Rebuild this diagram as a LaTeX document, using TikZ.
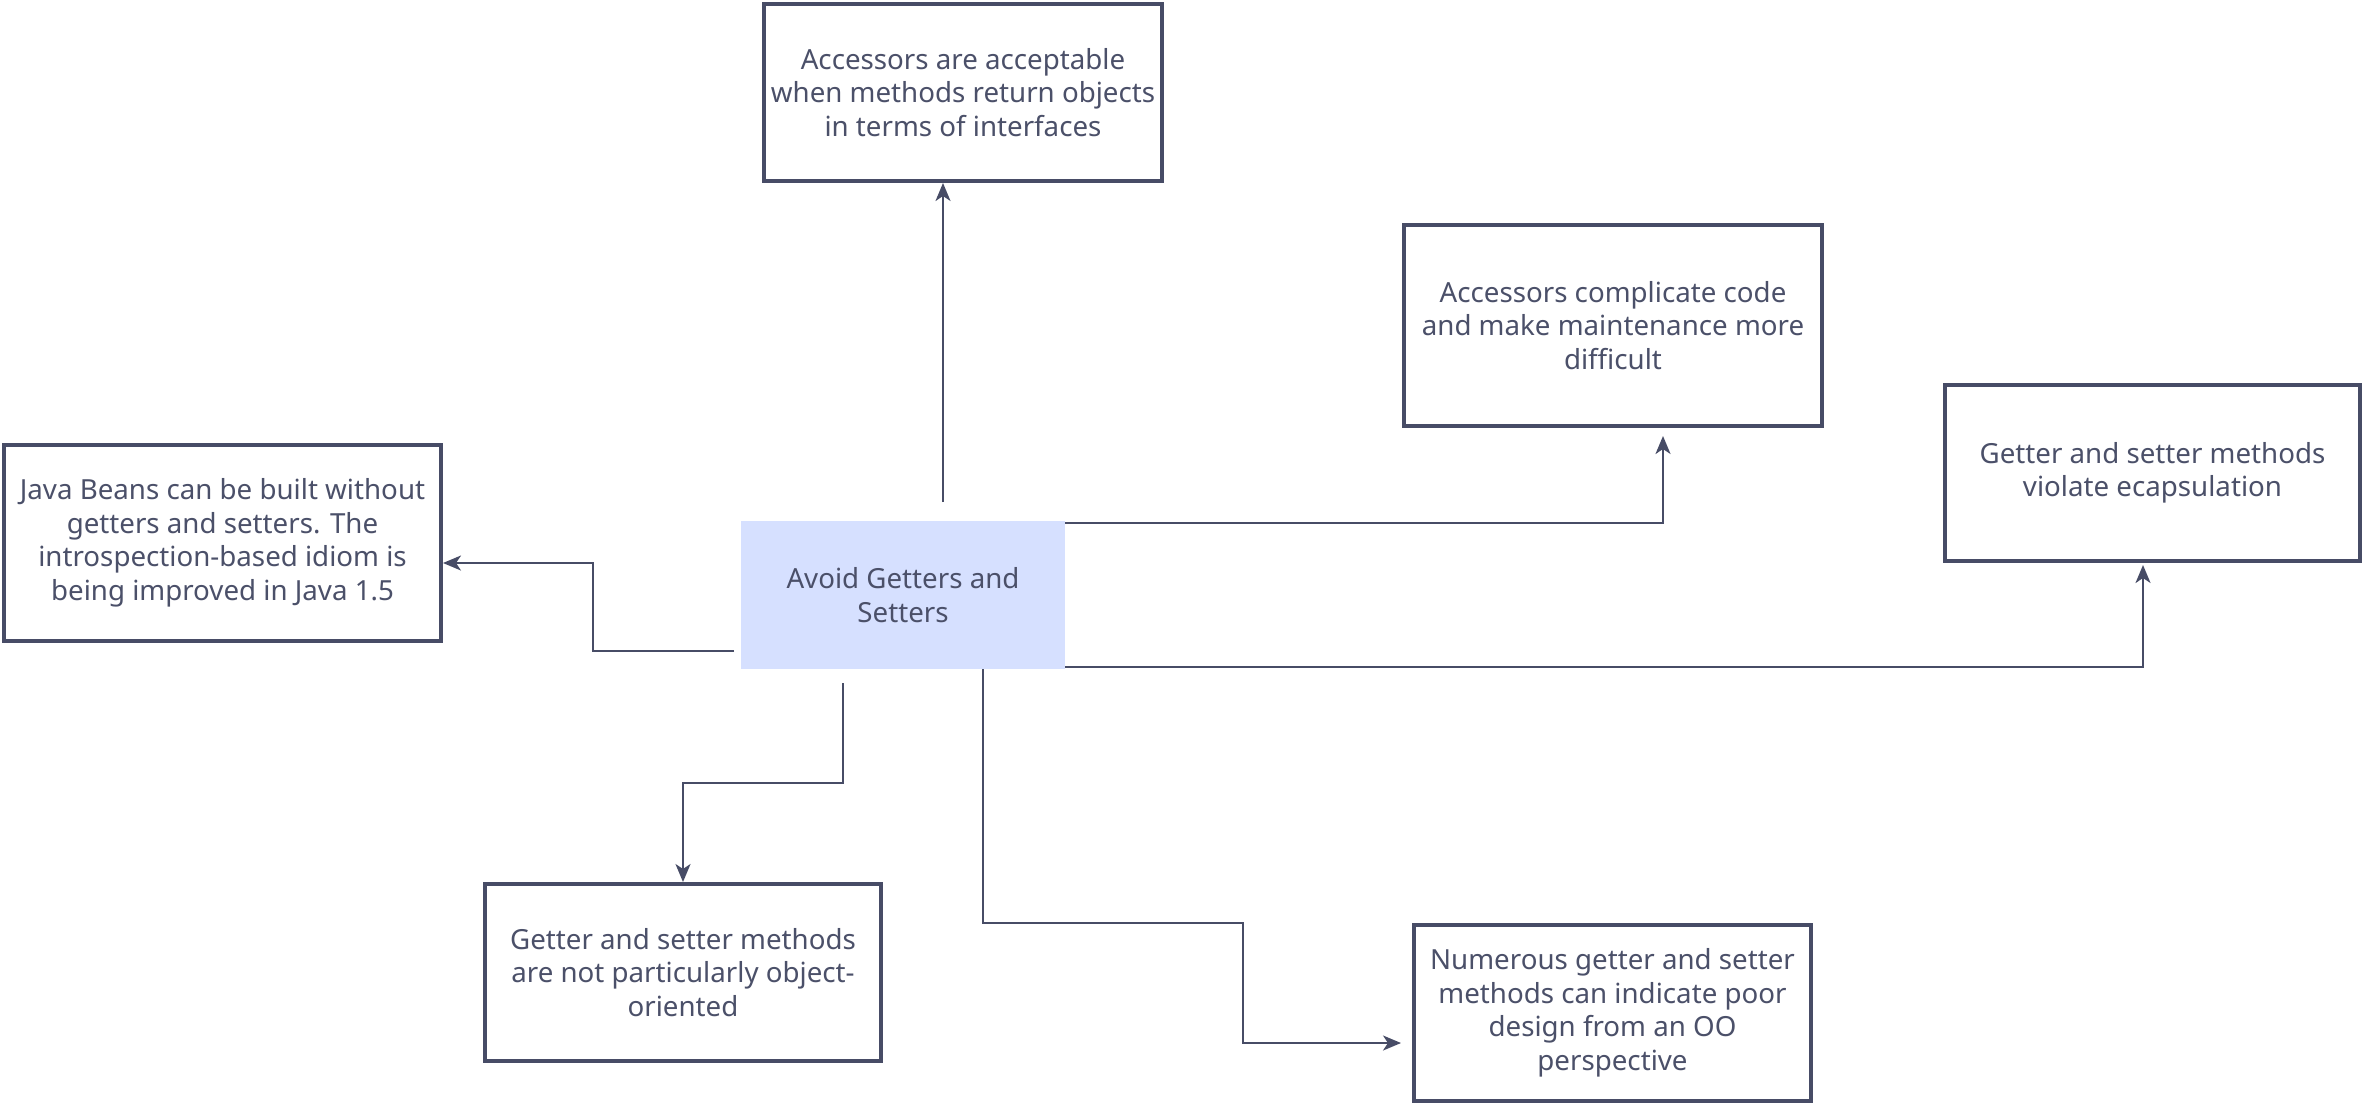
\documentclass[tikz,border=0pt]{standalone}
\usepackage{fontspec}
\setmainfont{Noto Sans}
\usetikzlibrary{arrows.meta}
\definecolor{ink}{HTML}{474C66}
\definecolor{txt}{HTML}{4B5069}
\definecolor{fillc}{HTML}{D6E0FF}
\begin{document}
\begin{tikzpicture}[x=1pt,y=-1pt,
  box/.style={draw=ink, line width=4pt, align=center, text=txt,
    font=\fontsize{27.7}{33.5}\selectfont, inner sep=0pt},
  topic/.style={fill=fillc, align=center, text=txt,
    font=\fontsize{27.7}{33.5}\selectfont, inner sep=0pt},
  arr/.style={draw=ink, line width=2.2pt, -{Stealth[length=18pt,width=15pt,inset=5pt]}}]
\useasboundingbox (0,0) rectangle (2364,1104);
\fill[white] (0,0) rectangle (2364,1104);

\node[topic, minimum width=324pt, minimum height=148pt] (ctr) at (903,595)
  {Avoid Getters and\\Setters};
\node[box, minimum width=398pt, minimum height=177pt] (acc) at (963,92.5)
  {Accessors are acceptable\\when methods return objects\\in terms of interfaces};
\node[box, minimum width=418pt, minimum height=201pt] (comp) at (1613,325.5)
  {Accessors complicate code\\and make maintenance more\\difficult};
\node[box, minimum width=415pt, minimum height=176pt] (viol) at (2152.5,473)
  {Getter and setter methods\\violate ecapsulation};
\node[box, minimum width=437pt, minimum height=196pt] (java) at (222.5,543)
  {Java Beans can be built without\\getters and setters. The\\introspection-based idiom is\\being improved in Java 1.5};
\node[box, minimum width=396pt, minimum height=177pt] (bl) at (683,972.5)
  {Getter and setter methods\\are not particularly object-\\oriented};
\node[box, minimum width=397pt, minimum height=176pt] (br) at (1612.5,1013)
  {Numerous getter and setter\\methods can indicate poor\\design from an OO\\perspective};

% connectors
\coordinate (t0) at (943,502);
\draw[arr] (t0) -- (t0 |- acc.south);

\coordinate (j0) at (734,651);
\coordinate (j1) at (593,563);
\draw[arr] (j0) -| (j1) -- (j1 -| java.east);

\coordinate (c1) at (1663,0);
\draw[arr, shorten >=8pt] ([yshift=-2pt]ctr.north east) -| (c1 |- comp.south);

\coordinate (v1) at (2143,0);
\draw[arr, shorten >=2pt] ([yshift=2pt]ctr.south east) -| (v1 |- viol.south);

\coordinate (b0) at (843,683);
\coordinate (b1) at (683,783);
\draw[arr] (b0) |- (b1) -- (bl.north);

\coordinate (r0) at (983,669);
\coordinate (r1) at (1243,923);
\coordinate (r2) at (1243,1043);
\draw[arr, shorten >=11pt] (r0) |- (r1) -- (r2) -- (r2 -| br.west);
\end{tikzpicture}
\end{document}
